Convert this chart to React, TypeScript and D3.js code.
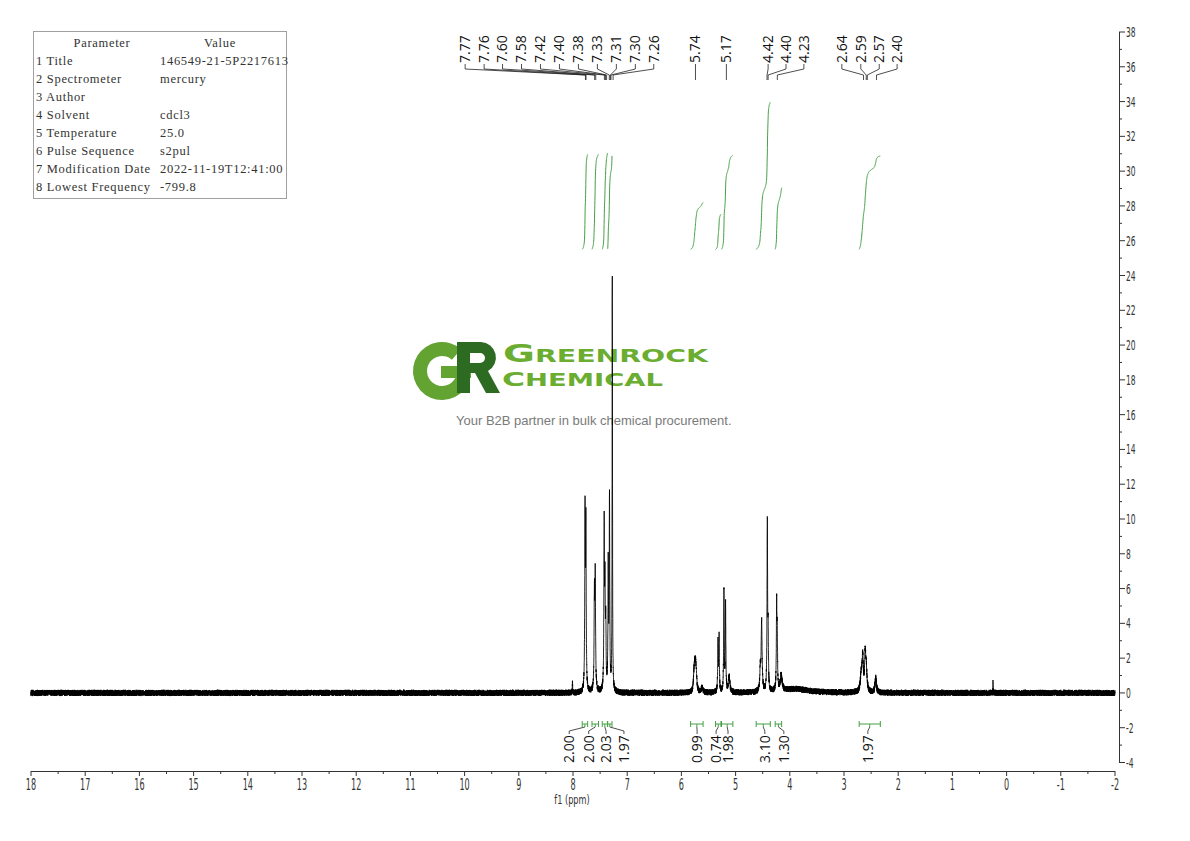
import * as d3 from "d3";
import { useMemo } from "react";

// acquisition parameters shown in the box
const paramNames = [
  "1 Title",
  "2 Spectrometer",
  "3 Author",
  "4 Solvent",
  "5 Temperature",
  "6 Pulse Sequence",
  "7 Modification Date",
  "8 Lowest Frequency",
];
const paramValues = ["146549-21-5P2217613", "mercury", "", "cdcl3", "25.0", "s2pul", "2022-11-19T12:41:00", "-799.8"];

// peak table: shift (ppm), height (y units), half width (ppm)
const peakPpm = [
  8.01, 7.778, 7.762, 7.605, 7.59, 7.425, 7.41, 7.395, 7.35, 7.327, 7.275, 5.77, 5.755, 5.74, 5.725, 5.62, 5.325, 5.305,
  5.215, 5.185, 5.12, 4.545, 4.52, 4.415, 4.4, 4.243, 4.232, 4.16, 3.9, 2.68, 2.655, 2.61, 2.59, 2.415, 0.25,
];
const peakHeight = [
  0.6, 10.3, 9.2, 5.2, 6.4, 9.6, 5.5, 3.5, 7.0, 10.9, 23.8, 0.7, 1.1, 1.15, 0.75, 0.3, 2.9, 3.1, 5.9, 4.9, 0.9, 1.2, 4.0,
  9.6, 3.0, 5.0, 2.8, 0.9, 0.22, 1.0, 1.8, 2.0, 1.3, 0.85, 0.7,
];
const peakWidth = [
  0.003, 0.006, 0.006, 0.007, 0.007, 0.006, 0.006, 0.006, 0.006, 0.006, 0.004, 0.012, 0.012, 0.012, 0.012, 0.02, 0.006,
  0.006, 0.006, 0.006, 0.015, 0.01, 0.01, 0.006, 0.006, 0.006, 0.006, 0.02, 0.3, 0.02, 0.012, 0.012, 0.015, 0.015, 0.003,
];

// peak picking labels and where their text sits (ppm)
const peakLabels = [
  "7.77", "7.76", "7.60", "7.58", "7.42", "7.40", "7.38", "7.33", "7.31", "7.30", "7.26",
  "5.74", "5.17", "4.42", "4.40", "4.23", "2.64", "2.59", "2.57", "2.40",
];
const peakLabelAt = [
  9.99, 9.64, 9.3, 8.95, 8.6, 8.25, 7.9, 7.55, 7.2, 6.85, 6.51, 5.74, 5.17, 4.4, 4.07, 3.74, 3.04, 2.69, 2.35, 2.02,
];

// integrals
const integralValues = ["2.00", "2.00", "2.03", "1.97", "0.99", "0.74", "1.98", "3.10", "1.30", "1.97"];
const integralFrom = [7.83, 7.65, 7.46, 7.36, 5.83, 5.37, 5.26, 4.62, 4.27, 2.72];
const integralTo = [7.73, 7.53, 7.365, 7.28, 5.6, 5.27, 5.05, 4.36, 4.15, 2.33];
const integralLabelAt = [8.07, 7.71, 7.39, 7.06, 5.71, 5.36, 5.14, 4.46, 4.11, 2.56];

const STEP = 0.001;
const NOISE = 0.36;
const intBase = 25.5; // y units where integral curves start
const intPerUnit = 2.73; // y units per integral unit

const tickFont = '"Liberation Sans Narrow", "DejaVu Sans Condensed", sans-serif';
const labelFont = '"Open Sans", "Noto Sans", sans-serif';
const green = "#45a045";

// deterministic baseline texture
const jitter = (i: number) => {
  const s = Math.sin(i * 12.9898) * 43758.5453;
  return s - Math.floor(s) - 0.5;
};

export default function App() {
  const x = d3.scaleLinear().domain([18, -2]).range([31, 1115]);
  const y = d3.scaleLinear().domain([-4, 38]).range([762.5, 32]);

  const { ppm, clean } = useMemo(() => {
    const n = Math.round(20 / STEP);
    const ppm = new Float64Array(n + 1);
    const clean = new Float64Array(n + 1);
    for (let i = 0; i <= n; i++) {
      const p = 18 - i * STEP;
      let s = 0;
      for (let k = 0; k < peakPpm.length; k++) {
        const d = (p - peakPpm[k]) / peakWidth[k];
        s += peakHeight[k] / (1 + d * d);
      }
      ppm[i] = p;
      clean[i] = s;
    }
    return { ppm, clean };
  }, []);

  const specPath = useMemo(() => {
    const line = d3
      .line<number>()
      .x((i) => x(ppm[i]))
      .y((i) => y(clean[i] + NOISE * jitter(i)))
      .digits(1);
    return line(d3.range(ppm.length)) || "";
  }, [ppm, clean]);

  const integralPaths = useMemo(
    () =>
      integralValues.map((v, k) => {
        const iA = Math.round((18 - integralFrom[k]) / STEP);
        const iB = Math.round((18 - integralTo[k]) / STEP);
        let total = 0;
        for (let i = iA; i <= iB; i++) total += clean[i];
        let cum = 0;
        const pts: [number, number][] = [];
        for (let i = iA; i <= iB; i++) {
          cum += clean[i];
          if ((i - iA) % 2 === 0 || i === iB)
            pts.push([x(ppm[i]), y(intBase + (cum / total) * +v * intPerUnit)]);
        }
        return d3.line().digits(1)(pts) || "";
      }),
    [ppm, clean]
  );

  const xMajor = x.ticks(20);
  const xMinor = x.ticks(40);
  const yMajor = y.ticks(21);
  const yMinor = y.ticks(42);

  const gArc = d3.arc()({
    innerRadius: 15,
    outerRadius: 29,
    startAngle: Math.PI / 2 + 0.25,
    endAngle: 2 * Math.PI + 0.72,
  } as any) as string;

  return (
    <svg
      width={1190}
      height={841}
      style={{ position: "absolute", left: 0, top: 0, background: "#fff" }}
    >
      {/* parameter table */}
      <g fontFamily='"Liberation Serif", serif' fontSize={12.5} fill="#333" letterSpacing={0.7}>
        <rect x={33.5} y={31.5} width={253} height={167} fill="none" stroke="#a0a0a0" />
        <text x={102} y={47} textAnchor="middle">Parameter</text>
        <text x={220} y={47} textAnchor="middle">Value</text>
        {paramNames.map((p, i) => (
          <g key={p}>
            <text x={36} y={65 + i * 18}>{p}</text>
            <text x={160} y={65 + i * 18}>{paramValues[i]}</text>
          </g>
        ))}
      </g>

      {/* watermark */}
      <g>
        <path d={gArc} transform="translate(442,371)" fill="#62a332" />
        <rect x={441} y={366} width={30} height={12} fill="#62a332" />
        <path
          d="M457,342H481A15.5,15.5 0 0 1 488,371L500,393H486L475,373H470V393H457Z M470,353H480A5,5 0 0 1 480,363H470Z"
          fill="#2e6b22"
          fillRule="evenodd"
        />
        <text
          x={503}
          y={362}
          fontFamily='"DejaVu Sans", sans-serif'
          fontWeight="bold"
          fill="#6aad30"
          textLength={205}
          lengthAdjust="spacingAndGlyphs"
        >
          <tspan fontSize={24}>G</tspan>
          <tspan fontSize={17.5}>REENROCK</tspan>
        </text>
        <text
          x={502}
          y={386}
          fontFamily='"DejaVu Sans", sans-serif'
          fontWeight="bold"
          fill="#6aad30"
          textLength={161}
          lengthAdjust="spacingAndGlyphs"
        >
          <tspan fontSize={20}>C</tspan>
          <tspan fontSize={17.5}>HEMICAL</tspan>
        </text>
        <text x={456} y={425} fontFamily='"Liberation Sans", Arial, sans-serif' fontSize={13} fill="#7a7a7a">
          Your B2B partner in bulk chemical procurement.
        </text>
      </g>

      {/* spectrum */}
      <path d={specPath} fill="none" stroke="#000" strokeWidth={0.85} />

      {/* integral curves */}
      {integralPaths.map((d, k) => (
        <path key={k} d={d} fill="none" stroke={green} strokeWidth={1} />
      ))}

      {/* integral brackets and labels */}
      {integralValues.map((v, k) => {
        const a = x(integralFrom[k]);
        const b = x(integralTo[k]);
        const c = (a + b) / 2;
        const lx = x(integralLabelAt[k]);
        return (
          <g key={k}>
            <path
              d={`M${a},724H${b}M${a},721V727M${b},721V727M${c},724V727`}
              stroke={green}
              fill="none"
              strokeWidth={1}
            />
            <path d={`M${c},727L${lx},731V734`} stroke="#222" fill="none" strokeWidth={0.8} />
            <text
              transform={`translate(${lx},763) rotate(-90)`}
              dy="0.35em"
              fontFamily={labelFont}
              fontSize={14}
              fill="#111"
            >
              {v}
            </text>
          </g>
        );
      })}

      {/* peak labels */}
      {peakLabels.map((l, k) => {
        const px = x(+l);
        const lx = x(peakLabelAt[k]);
        return (
          <g key={k}>
            <path d={`M${lx},64V69L${px},75V80`} stroke="#222" fill="none" strokeWidth={0.8} />
            <text
              transform={`translate(${lx},63) rotate(-90)`}
              dy="0.35em"
              fontFamily={labelFont}
              fontSize={14}
              fill="#111"
            >
              {l}
            </text>
          </g>
        );
      })}

      {/* x axis */}
      <g stroke="#333" strokeWidth={1}>
        <line x1={31} x2={1115} y1={771.5} y2={771.5} />
        {xMinor.map((t) => (
          <line key={t} x1={x(t)} x2={x(t)} y1={771} y2={Number.isInteger(t) ? 776 : 774} />
        ))}
      </g>
      <g fontFamily={tickFont} fontSize={15} fill="#333">
        {xMajor.map((t) => (
          <text key={t} transform={`translate(${x(t)},790) scale(0.6,1)`} textAnchor="middle">
            {String(t)}
          </text>
        ))}
        <text transform="translate(572,804) scale(0.7,1)" textAnchor="middle" fontSize={13}>
          f1 (ppm)
        </text>
      </g>

      {/* y axis */}
      <g stroke="#333" strokeWidth={1}>
        <line x1={1119.5} x2={1119.5} y1={y(38)} y2={y(-4)} />
        {yMinor.map((t) => (
          <line key={t} x1={1119} x2={t % 2 === 0 ? 1125 : 1122} y1={y(t)} y2={y(t)} />
        ))}
      </g>
      <g fontFamily={tickFont} fontSize={14} fill="#333">
        {yMajor.map((t) => (
          <text key={t} transform={`translate(1126,${y(t) + 5}) scale(0.6,1)`}>
            {String(t)}
          </text>
        ))}
      </g>
    </svg>
  );
}
